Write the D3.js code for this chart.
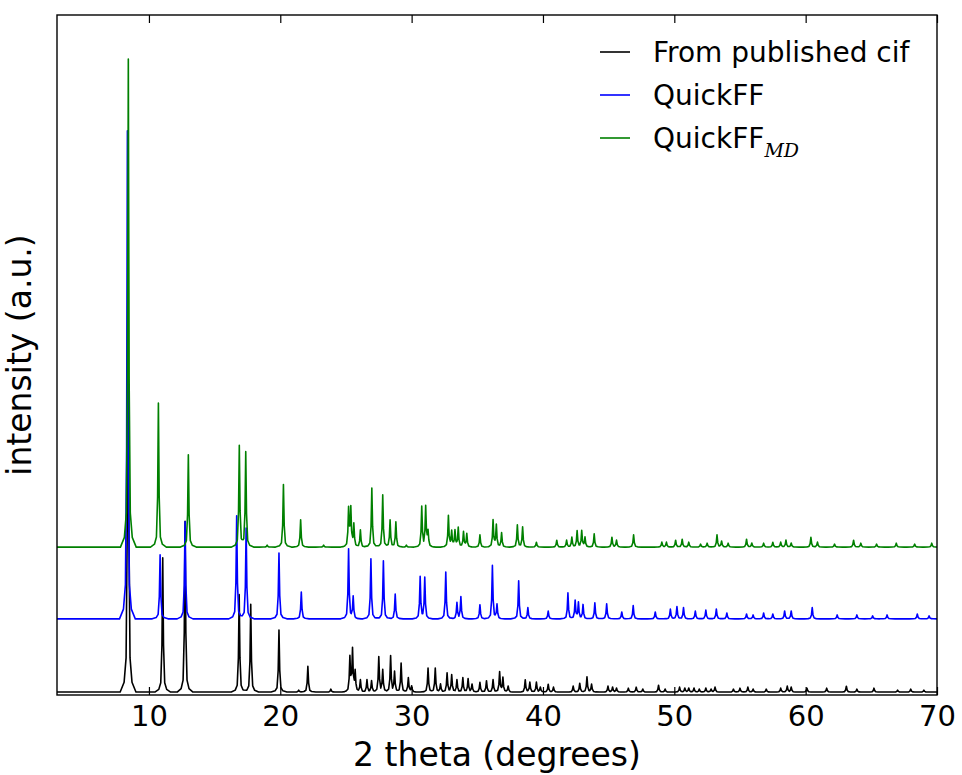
<!DOCTYPE html>
<meta charset="utf-8">
<style>
  body { margin: 0; background: #fff; }
  text { font-family: "DejaVu Sans", sans-serif; fill: #000; }
</style>
<div id="chart"></div>
<script src="https://d3js.org/d3.v7.min.js"></script>
<script>

// peak lists: [2 theta, relative intensity]
const cifPeaks = [
  [8.41,100],[11.05,27.5],[12.75,35],[16.87,20],[17.75,18],[19.9,12.7],[21.4,0.4],[22.1,5.3],[23.85,0.6],
  [25.3,7],[25.5,8.6],[25.7,4.1],[26.1,2.5],[26.6,2.5],[26.95,2.3],[27.5,7.2],[27.8,4.5],[28.4,7.4],[28.7,4.1],
  [29.2,5.9],[29.75,2.9],[30.0,1.2],[31.25,4.9],[31.8,4.9],[32.2,1.6],[32.7,3.9],[33.05,3.5],[33.45,2.5],
  [33.9,2.9],[34.3,2.7],[34.6,1.6],[35.2,2],[35.7,2.3],[36.2,2.5],[36.7,4.1],[36.95,2.9],[37.35,1.2],
  [38.65,2.5],[39.0,2],[39.5,2],[39.8,1],[40.4,1.6],[40.8,1],[42.3,1.2],[42.8,1.8],[43.35,3.1],[43.7,1.6],
  [44.95,1.2],[45.3,1],[45.6,0.8],[46.5,0.8],[47.1,1],[47.6,0.6],[48.8,1.4],[49.3,0.6],[50.4,1],[50.8,0.8],
  [51.1,0.8],[51.5,0.8],[51.9,0.6],[52.4,0.8],[52.8,0.6],[53.1,1],[54.5,0.6],[55.0,0.8],[55.6,1],[56.0,0.6],
  [57.0,0.6],[58.1,0.8],[58.6,1.2],[58.9,1],[60.1,0.8],[61.6,0.8],[63.1,1.2],[63.9,0.6],[65.2,0.8],
  [67.0,0.4],[68.0,0.6],[69.0,0.4]
];
const quickffPeaks = [
  [8.36,100],[10.85,13.1],[12.75,19.9],[16.68,21.1],[17.4,18.6],[19.9,13.5],[21.6,5.5],[25.2,14.3],[25.55,4.5],
  [26.9,12.3],[27.85,11.9],[28.75,5.1],[30.65,8.6],[31.0,8.4],[32.6,9.6],[33.45,3.3],[33.75,4.5],[35.2,2.9],
  [36.15,10.9],[36.5,2.9],[38.15,7.8],[38.85,2.3],[40.4,1.6],[41.9,5.3],[42.45,3.7],[42.7,3.3],[43.05,2.9],
  [43.95,3.3],[44.85,3.1],[46.0,1.4],[46.87,2.7],[48.55,1.4],[49.7,2],[50.2,2.5],[50.7,2.3],[51.6,1.6],
  [52.4,1.8],[53.2,2],[54.0,1.2],[55.5,1],[56.0,0.8],[56.8,1.2],[57.5,1],[58.4,1.6],[58.9,1.6],[60.5,2.3],
  [62.4,0.8],[63.9,0.8],[65.1,0.6],[66.2,0.8],[68.5,1],[69.4,0.6]
];
const quickffMdPeaks = [
  [8.43,100],[10.72,29.5],[13.0,18.9],[16.88,20.7],[17.37,19.4],[19.0,0.4],[20.24,12.8],[21.55,5.6],[23.3,0.4],
  [25.2,7.8],[25.37,7.8],[25.6,4.5],[26.1,3.5],[26.97,12.1],[27.8,10.7],[28.36,5.5],[28.8,5.1],[29.6,0.4],
  [30.77,8.2],[31.07,8.2],[31.25,3.1],[32.8,6.4],[33.05,3.1],[33.3,3.3],[33.55,3.9],[33.95,3.1],[34.2,2.7],
  [35.2,2.5],[36.2,5.5],[36.45,4.5],[36.85,2.9],[38.05,4.5],[38.45,4.1],[39.5,1],[41.05,1.4],[41.8,1.4],
  [42.2,2],[42.6,3.3],[42.95,3.3],[43.2,2],[43.9,2.7],[45.25,2],[45.6,1.4],[46.9,2.5],[49.05,1],[49.4,1],
  [50.1,1.4],[50.6,1.6],[51.1,1],[52.0,0.6],[52.5,0.8],[53.25,2.5],[53.6,1.2],[54.1,0.8],[55.5,1.6],[55.9,0.8],
  [56.8,0.8],[57.5,1],[58.1,1],[58.5,1.4],[58.9,0.8],[60.4,2],[60.9,1],[62.2,0.6],[63.65,1.4],[64.2,0.8],
  [65.4,0.6],[66.9,0.8],[68.3,0.6],[69.6,0.8]
];

const seriesNames = ["From published cif", "QuickFF", "QuickFF"];
const seriesOffsets = [0.6, 15.6, 30.3];
const xTicks = [10, 20, 30, 40, 50, 60, 70];

const colors = ["#000000", "#0000ff", "#008000"];
const allPeaks = [cifPeaks, quickffPeaks, quickffMdPeaks];

const margin = {top: 15, right: 25, bottom: 80, left: 57},
    width = 962 - margin.left - margin.right,
    height = 775 - margin.top - margin.bottom;

const svg = d3.select("#chart")
  .append("svg")
    .attr("width", 962)
    .attr("height", 775)
  .append("g")
    .attr("transform", `translate(${margin.left},${margin.top})`);

const x = d3.scaleLinear().domain([3, 70]).range([0, width]);
const y = d3.scaleLinear().domain([0, 139.3]).range([height, 0]);

// narrow peak glyph (offset in degrees, fraction of peak height)
const glyph = d3.scaleLinear()
  .domain([-0.6, -0.3, -0.15, -0.06, 0, 0.06, 0.15, 0.3, 0.6])
  .range([0, 0.02, 0.07, 0.35, 1, 0.35, 0.07, 0.02, 0])
  .clamp(true);

function trace(peaks, offset) {
  const xs = [3, 70];
  peaks.forEach(p => glyph.domain().forEach(d => xs.push(p[0] + d)));
  xs.sort((a, b) => a - b);
  return xs.filter(v => v >= 3 && v <= 70)
    .map(v => [v, offset + d3.sum(peaks, p => p[1] * glyph(v - p[0]))]);
}

const line = d3.line().x(d => x(d[0])).y(d => y(d[1]));

allPeaks.forEach((peaks, i) => {
  svg.append("path")
    .attr("d", line(trace(peaks, seriesOffsets[i])))
    .attr("fill", "none")
    .attr("stroke", colors[i])
    .attr("stroke-width", 1.6)
    .attr("stroke-linejoin", "round");
});

// axes frame + inward ticks
svg.append("rect")
  .attr("width", width).attr("height", height)
  .attr("fill", "none").attr("stroke", "#000").attr("stroke-width", 1.4);

const xAxis = svg.append("g")
  .attr("transform", `translate(0,${height})`)
  .call(d3.axisBottom(x).tickValues(xTicks).tickSizeInner(-8).tickSizeOuter(0).tickPadding(10));
xAxis.select(".domain").remove();
xAxis.selectAll("text").attr("font-size", 29).attr("font-family", "DejaVu Sans");

const xTop = svg.append("g")
  .call(d3.axisTop(x).tickValues(xTicks).tickSizeInner(-8).tickSizeOuter(0).tickFormat(""));
xTop.select(".domain").remove();
svg.selectAll(".tick line").attr("stroke-width", 1.2);

svg.append("text")
  .attr("x", width / 2).attr("y", height + 71)
  .attr("text-anchor", "middle").attr("font-size", 33)
  .text("2 theta (degrees)");

svg.append("text")
  .attr("transform", `translate(-26,${height / 2}) rotate(-90)`)
  .attr("text-anchor", "middle").attr("font-size", 33)
  .text("intensity (a.u.)");

// legend
const legend = svg.append("g").attr("transform", "translate(543,37)");
seriesNames.forEach((name, i) => {
  const g = legend.append("g").attr("transform", `translate(0,${i * 43})`);
  g.append("line").attr("x1", 0).attr("x2", 30)
    .attr("stroke", colors[i]).attr("stroke-width", 1.6);
  const t = g.append("text").attr("x", 53).attr("dy", "0.35em").attr("font-size", 28).text(name);
  if (i === 2) {
    t.append("tspan").attr("font-family", "DejaVu Serif").attr("font-style", "italic")
      .attr("font-size", 19).attr("dy", 9).text("MD");
  }
});

</script>
